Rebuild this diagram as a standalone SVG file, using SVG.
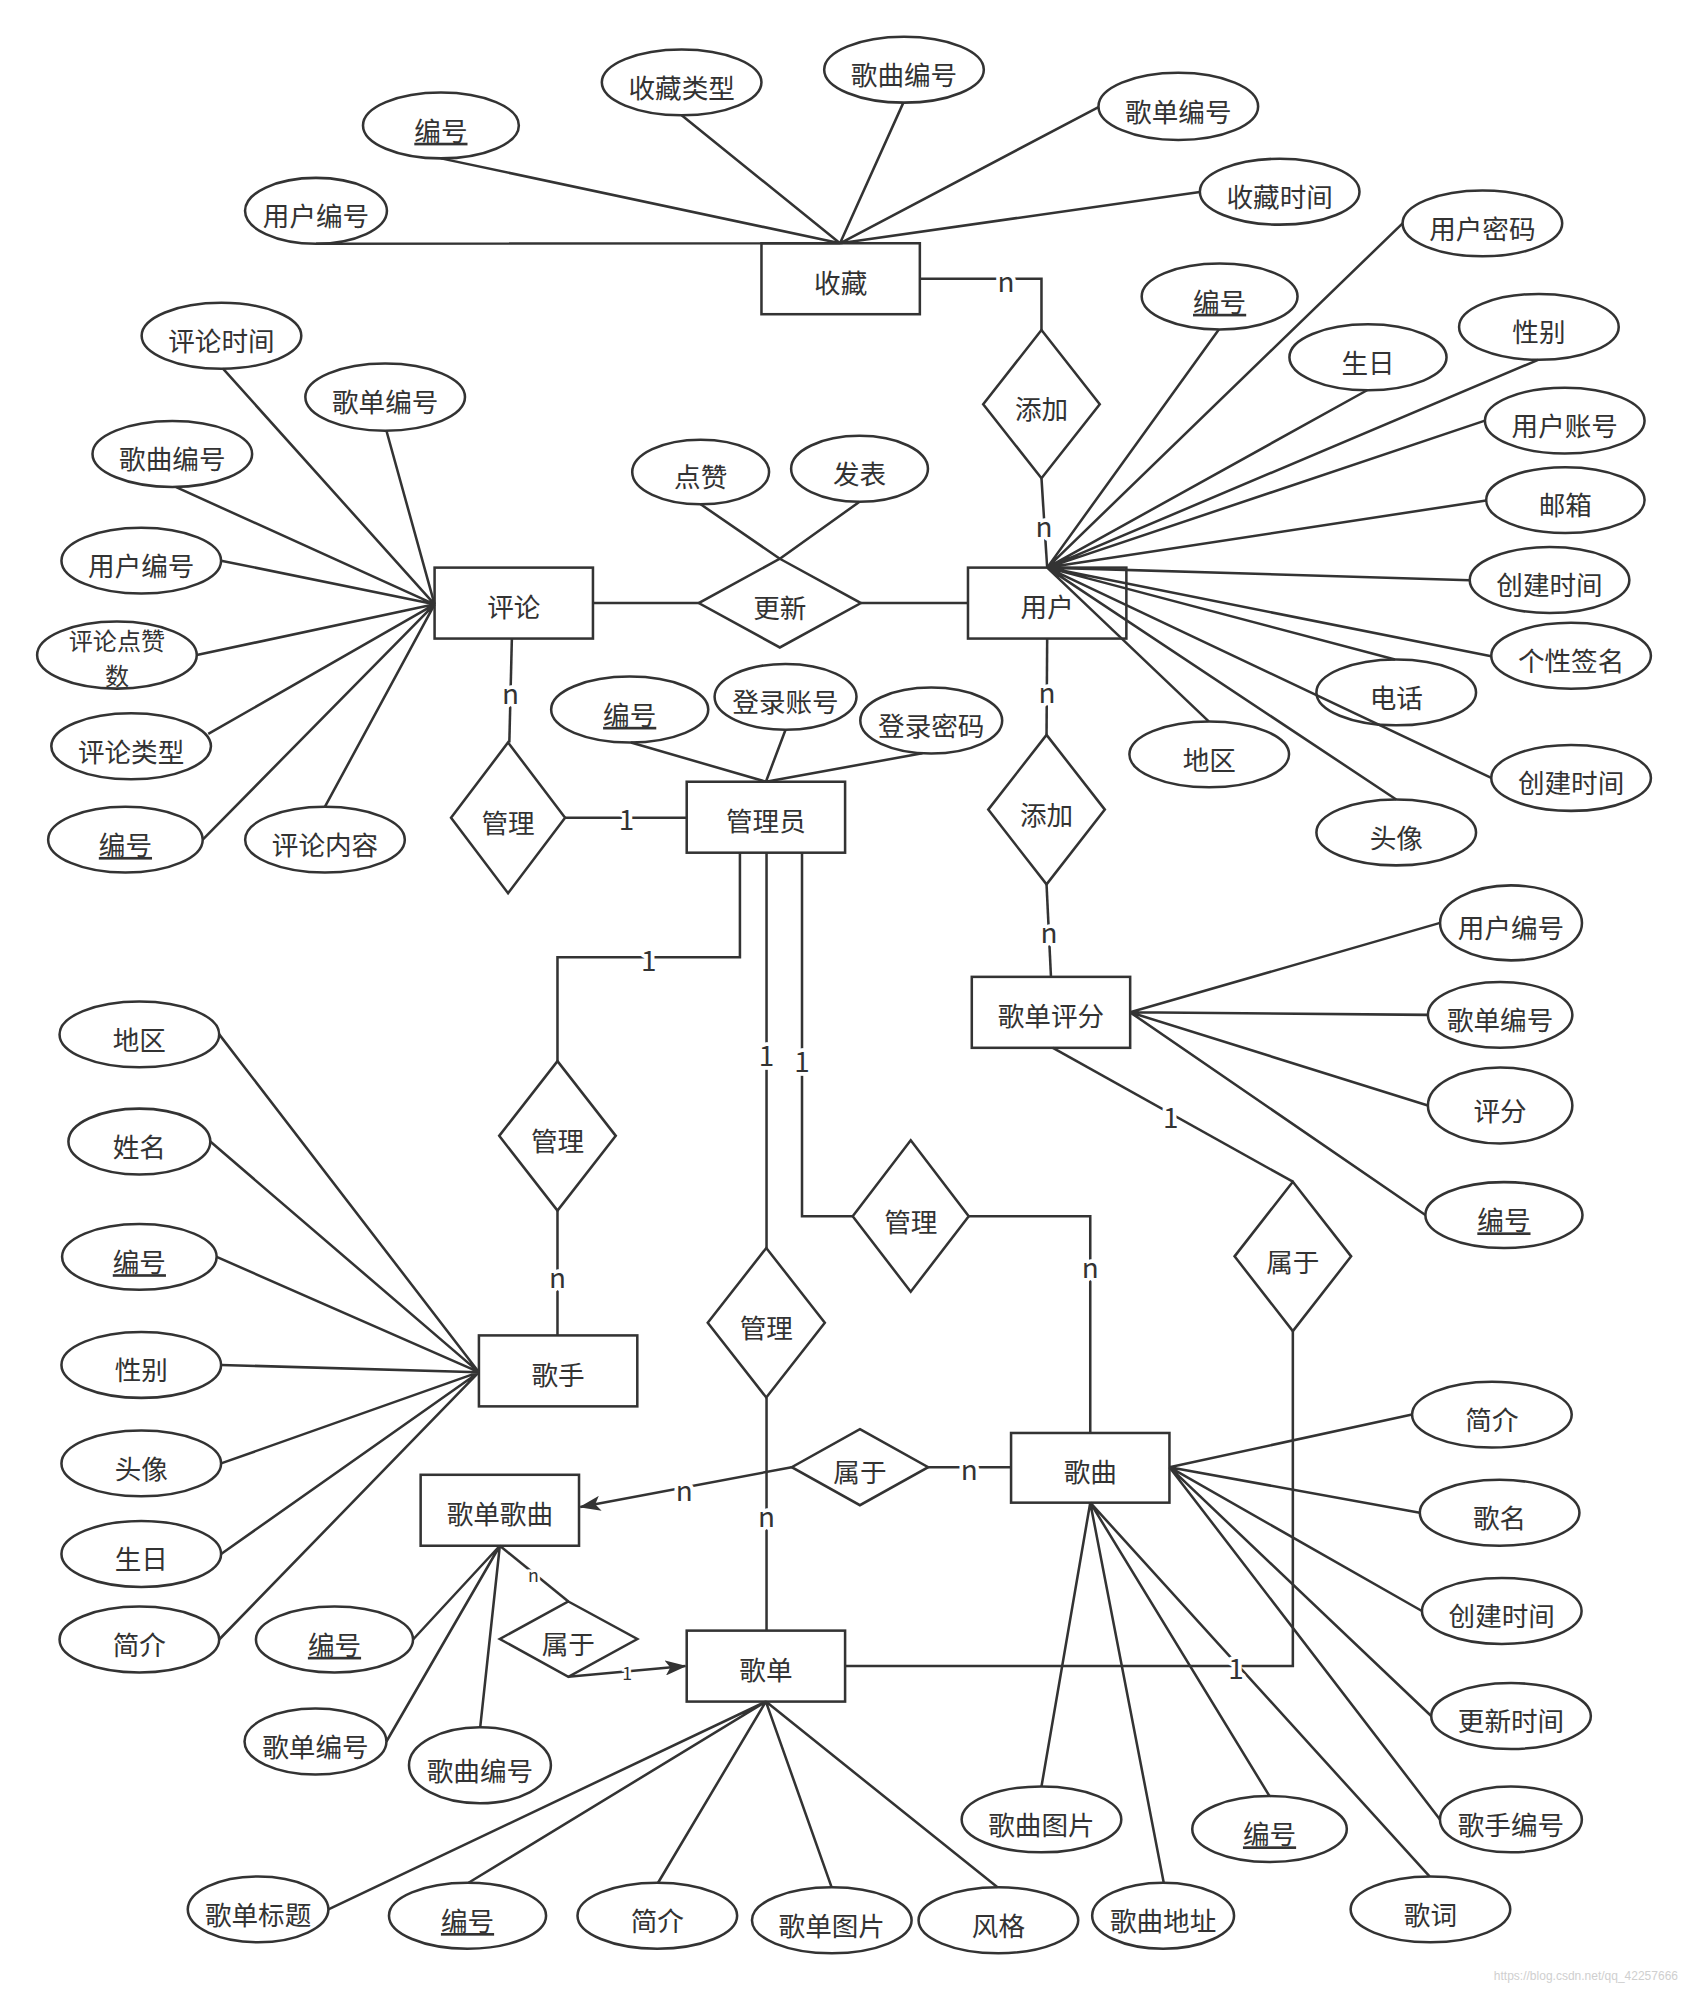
<svg xmlns="http://www.w3.org/2000/svg" width="1688" height="1990" viewBox="0 0 1688 1990">
<style>
.bg{fill:#fff}
.e,.r,.d{fill:#fff;stroke:#333;stroke-width:2}
.c{fill:none;stroke:#333;stroke-width:2}
text{font-family:"Noto Sans CJK SC","Noto Sans",sans-serif;font-size:21px;fill:#333;text-anchor:middle;dominant-baseline:central}
.k{text-decoration:underline}
.two{font-size:19px}
.lab{font-size:22px;stroke:#fff;stroke-width:6;paint-order:stroke;stroke-linejoin:round}
.sm{font-size:14px;stroke:#fff;stroke-width:4;paint-order:stroke}
.wm{font-family:"Liberation Sans",Arial,sans-serif;font-size:12px;fill:#cfcfcf;text-anchor:end}
</style>
<defs>
<marker id="arr" markerWidth="18" markerHeight="12" refX="16" refY="6" orient="auto" markerUnits="userSpaceOnUse">
<path d="M0,0 L17,6 L0,12 L4,6 Z" fill="#333"/>
</marker>
</defs>
<rect class="bg" x="0" y="0" width="1688" height="1990"/>
<g transform="scale(1.267)">
<g id="nodes">
<!-- entities -->
<g id="e-shoucang"><rect class="r" x="601" y="192" width="125" height="56"/><text x="663.5" y="222">收藏</text></g>
<g id="e-yonghu"><rect class="r" x="764" y="448" width="125" height="56"/><text x="826.5" y="478">用户</text></g>
<g id="e-pinglun"><rect class="r" x="343" y="448" width="125" height="56"/><text x="405.5" y="478">评论</text></g>
<g id="e-guanliyuan"><rect class="r" x="542" y="617" width="125" height="56"/><text x="604.5" y="647">管理员</text></g>
<g id="e-gedanpingfen"><rect class="r" x="767" y="771" width="125" height="56"/><text x="829.5" y="801">歌单评分</text></g>
<g id="e-geshou"><rect class="r" x="378" y="1054" width="125" height="56"/><text x="440.5" y="1084">歌手</text></g>
<g id="e-gedangequ"><rect class="r" x="332" y="1164" width="125" height="56"/><text x="394.5" y="1194">歌单歌曲</text></g>
<g id="e-gequ"><rect class="r" x="798" y="1131" width="125" height="55"/><text x="860.5" y="1161">歌曲</text></g>
<g id="e-gedan"><rect class="r" x="542" y="1287" width="125" height="56"/><text x="604.5" y="1317">歌单</text></g>
<!-- relationships -->
<g id="r-tianjia1"><polygon class="d" points="822,260.5 868,319 822,377.5 776,319"/><text x="822" y="322">添加</text></g>
<g id="r-gengxin"><polygon class="d" points="615.5,441 679.5,476 615.5,511 551.5,476"/><text x="615.5" y="479">更新</text></g>
<g id="r-guanli-pl"><polygon class="d" points="401,586 446,645.5 401,705 356,645.5"/><text x="401" y="648">管理</text></g>
<g id="r-tianjia2"><polygon class="d" points="826,580 872,639 826,698 780,639"/><text x="826" y="642">添加</text></g>
<g id="r-guanli-gs"><polygon class="d" points="440,837.5 486,896.5 440,955.5 394,896.5"/><text x="440" y="899">管理</text></g>
<g id="r-guanli-gq"><polygon class="d" points="718.8,900 764.6,960 718.8,1019.5 673,960"/><text x="718.8" y="963">管理</text></g>
<g id="r-guanli-gd"><polygon class="d" points="604.8,985 651,1044 604.8,1103 558.6,1044"/><text x="604.8" y="1047">管理</text></g>
<g id="r-shuyu-pf"><polygon class="d" points="1020.4,932.7 1066.4,991.6 1020.4,1050.6 974.4,991.6"/><text x="1020.4" y="994.6">属于</text></g>
<g id="r-shuyu-gq"><polygon class="d" points="678.7,1128 732.6,1158 678.7,1188 624.9,1158"/><text x="678.7" y="1161">属于</text></g>
<g id="r-shuyu-gd"><polygon class="d" points="448.6,1264 503,1293.6 448.6,1323.4 394.5,1293.6"/><text x="448.6" y="1296.6">属于</text></g>
<!-- attributes: 收藏 -->
<g id="a-sc-bh"><ellipse class="e" cx="348" cy="99" rx="61.5" ry="26"/><text class="k" x="348" y="102">编号</text></g>
<g id="a-sc-yhbh"><ellipse class="e" cx="249.4" cy="166.4" rx="56" ry="26"/><text x="249.4" y="169.4">用户编号</text></g>
<g id="a-sc-sclx"><ellipse class="e" cx="538" cy="65" rx="63" ry="26"/><text x="538" y="68">收藏类型</text></g>
<g id="a-sc-gqbh"><ellipse class="e" cx="713.5" cy="55" rx="63" ry="26"/><text x="713.5" y="58">歌曲编号</text></g>
<g id="a-sc-gdbh"><ellipse class="e" cx="930" cy="84" rx="63" ry="26.5"/><text x="930" y="87">歌单编号</text></g>
<g id="a-sc-scsj"><ellipse class="e" cx="1010" cy="151.3" rx="63" ry="26"/><text x="1010" y="154.3">收藏时间</text></g>
<!-- attributes: 用户 -->
<g id="a-yh-mm"><ellipse class="e" cx="1170" cy="176.3" rx="63" ry="26"/><text x="1170" y="179.3">用户密码</text></g>
<g id="a-yh-bh"><ellipse class="e" cx="962.6" cy="234" rx="61.5" ry="26"/><text class="k" x="962.6" y="237">编号</text></g>
<g id="a-yh-sr"><ellipse class="e" cx="1079.7" cy="282" rx="62" ry="26"/><text x="1079.7" y="285">生日</text></g>
<g id="a-yh-xb"><ellipse class="e" cx="1214.6" cy="258" rx="63" ry="26"/><text x="1214.6" y="261">性别</text></g>
<g id="a-yh-zh"><ellipse class="e" cx="1235" cy="332" rx="63" ry="26"/><text x="1235" y="335">用户账号</text></g>
<g id="a-yh-yx"><ellipse class="e" cx="1235.5" cy="394.7" rx="62.5" ry="26"/><text x="1235.5" y="397.7">邮箱</text></g>
<g id="a-yh-cj1"><ellipse class="e" cx="1223" cy="457.8" rx="63" ry="26"/><text x="1223" y="460.8">创建时间</text></g>
<g id="a-yh-qm"><ellipse class="e" cx="1240" cy="517.6" rx="63" ry="26"/><text x="1240" y="520.6">个性签名</text></g>
<g id="a-yh-dh"><ellipse class="e" cx="1102" cy="546.5" rx="63" ry="26"/><text x="1102" y="549.5">电话</text></g>
<g id="a-yh-cj2"><ellipse class="e" cx="1240" cy="614" rx="63" ry="26"/><text x="1240" y="617">创建时间</text></g>
<g id="a-yh-dq"><ellipse class="e" cx="954.4" cy="595.4" rx="63" ry="26"/><text x="954.4" y="598.4">地区</text></g>
<g id="a-yh-tx"><ellipse class="e" cx="1102" cy="657" rx="63" ry="26"/><text x="1102" y="660">头像</text></g>
<!-- attributes: 评论 -->
<g id="a-pl-sj"><ellipse class="e" cx="174.8" cy="265" rx="63" ry="26"/><text x="174.8" y="268">评论时间</text></g>
<g id="a-pl-gdbh"><ellipse class="e" cx="304" cy="313.4" rx="63" ry="26.5"/><text x="304" y="316.4">歌单编号</text></g>
<g id="a-pl-gqbh"><ellipse class="e" cx="136" cy="358.3" rx="63" ry="26"/><text x="136" y="361.3">歌曲编号</text></g>
<g id="a-pl-yhbh"><ellipse class="e" cx="111.5" cy="442.5" rx="63" ry="26"/><text x="111.5" y="445.5">用户编号</text></g>
<g id="a-pl-dzs"><ellipse class="e" cx="92.3" cy="517" rx="63" ry="26.5"/><text class="two" x="92.3" y="504"><tspan x="92.3" y="504">评论点赞</tspan><tspan x="92.3" y="532">数</tspan></text></g>
<g id="a-pl-lx"><ellipse class="e" cx="103.5" cy="589" rx="63" ry="26"/><text x="103.5" y="592">评论类型</text></g>
<g id="a-pl-bh"><ellipse class="e" cx="99" cy="662.7" rx="61" ry="26"/><text class="k" x="99" y="665.7">编号</text></g>
<g id="a-pl-nr"><ellipse class="e" cx="256.5" cy="662.7" rx="63" ry="26"/><text x="256.5" y="665.7">评论内容</text></g>
<!-- attributes: 更新 -->
<g id="a-gx-dz"><ellipse class="e" cx="553" cy="372.5" rx="54" ry="25.5"/><text x="553" y="375.5">点赞</text></g>
<g id="a-gx-fb"><ellipse class="e" cx="678.4" cy="370" rx="54" ry="26"/><text x="678.4" y="373">发表</text></g>
<!-- attributes: 管理员 -->
<g id="a-gly-bh"><ellipse class="e" cx="497" cy="560" rx="62" ry="26"/><text class="k" x="497" y="563">编号</text></g>
<g id="a-gly-zh"><ellipse class="e" cx="620" cy="550" rx="56" ry="26"/><text x="620" y="553">登录账号</text></g>
<g id="a-gly-mm"><ellipse class="e" cx="735" cy="568.7" rx="56" ry="26"/><text x="735" y="571.7">登录密码</text></g>
<!-- attributes: 歌单评分 -->
<g id="a-pf-yhbh"><ellipse class="e" cx="1192.6" cy="728.4" rx="56" ry="29.6"/><text x="1192.6" y="731.4">用户编号</text></g>
<g id="a-pf-gdbh"><ellipse class="e" cx="1184" cy="801" rx="57" ry="26"/><text x="1184" y="804">歌单编号</text></g>
<g id="a-pf-pf"><ellipse class="e" cx="1184" cy="872.5" rx="57" ry="30"/><text x="1184" y="875.5">评分</text></g>
<g id="a-pf-bh"><ellipse class="e" cx="1187" cy="959" rx="62" ry="26"/><text class="k" x="1187" y="962">编号</text></g>
<!-- attributes: 歌手 -->
<g id="a-gs-dq"><ellipse class="e" cx="110" cy="816.4" rx="63" ry="26"/><text x="110" y="819.4">地区</text></g>
<g id="a-gs-xm"><ellipse class="e" cx="110" cy="901" rx="56" ry="26"/><text x="110" y="904">姓名</text></g>
<g id="a-gs-bh"><ellipse class="e" cx="110" cy="992" rx="61" ry="26"/><text class="k" x="110" y="995">编号</text></g>
<g id="a-gs-xb"><ellipse class="e" cx="111.5" cy="1077.3" rx="63" ry="26"/><text x="111.5" y="1080.3">性别</text></g>
<g id="a-gs-tx"><ellipse class="e" cx="111.5" cy="1155" rx="63" ry="26"/><text x="111.5" y="1158">头像</text></g>
<g id="a-gs-sr"><ellipse class="e" cx="111.5" cy="1226.5" rx="63" ry="26"/><text x="111.5" y="1229.5">生日</text></g>
<g id="a-gs-jj"><ellipse class="e" cx="110" cy="1294" rx="63" ry="26"/><text x="110" y="1297">简介</text></g>
<!-- attributes: 歌单歌曲 -->
<g id="a-gdgq-bh"><ellipse class="e" cx="264" cy="1294" rx="62" ry="26"/><text class="k" x="264" y="1297">编号</text></g>
<g id="a-gdgq-gdbh"><ellipse class="e" cx="249" cy="1374.5" rx="56" ry="26"/><text x="249" y="1377.5">歌单编号</text></g>
<g id="a-gdgq-gqbh"><ellipse class="e" cx="378.8" cy="1393.3" rx="56" ry="30"/><text x="378.8" y="1396.3">歌曲编号</text></g>
<!-- attributes: 歌单 -->
<g id="a-gd-bt"><ellipse class="e" cx="203.7" cy="1507" rx="55.5" ry="26"/><text x="203.7" y="1510">歌单标题</text></g>
<g id="a-gd-bh"><ellipse class="e" cx="369" cy="1512" rx="62" ry="26"/><text class="k" x="369" y="1515">编号</text></g>
<g id="a-gd-jj"><ellipse class="e" cx="518.8" cy="1512" rx="63" ry="26"/><text x="518.8" y="1515">简介</text></g>
<g id="a-gd-tp"><ellipse class="e" cx="656.5" cy="1515.6" rx="63" ry="26"/><text x="656.5" y="1518.6">歌单图片</text></g>
<g id="a-gd-fg"><ellipse class="e" cx="788" cy="1515.6" rx="63" ry="26"/><text x="788" y="1518.6">风格</text></g>
<!-- attributes: 歌曲 -->
<g id="a-gq-jj"><ellipse class="e" cx="1177.5" cy="1116.5" rx="63" ry="26"/><text x="1177.5" y="1119.5">简介</text></g>
<g id="a-gq-gm"><ellipse class="e" cx="1183.6" cy="1194" rx="63" ry="26"/><text x="1183.6" y="1197">歌名</text></g>
<g id="a-gq-cj"><ellipse class="e" cx="1185.3" cy="1271.5" rx="63" ry="26"/><text x="1185.3" y="1274.5">创建时间</text></g>
<g id="a-gq-gx"><ellipse class="e" cx="1192.6" cy="1354.4" rx="63" ry="26"/><text x="1192.6" y="1357.4">更新时间</text></g>
<g id="a-gq-gsbh"><ellipse class="e" cx="1192.5" cy="1436" rx="56" ry="26"/><text x="1192.5" y="1439">歌手编号</text></g>
<g id="a-gq-tp"><ellipse class="e" cx="822" cy="1436" rx="63" ry="26"/><text x="822" y="1439">歌曲图片</text></g>
<g id="a-gq-dz"><ellipse class="e" cx="918" cy="1512" rx="56" ry="26"/><text x="918" y="1515">歌曲地址</text></g>
<g id="a-gq-bh"><ellipse class="e" cx="1002" cy="1443.6" rx="61" ry="26"/><text class="k" x="1002" y="1446.6">编号</text></g>
<g id="a-gq-gc"><ellipse class="e" cx="1129" cy="1507" rx="63" ry="26"/><text x="1129" y="1510">歌词</text></g>
</g>
<g id="connectors">
<!-- 收藏 attributes -->
<path class="c" d="M663,192 L348,125 M663,192 L249.4,192.4 M663,192 L538,91 M663,192 L713,81 M663,192 L867,84.5 M663,192 L947,151.5"/>
<!-- 用户 attributes -->
<path class="c" d="M826.5,448 L1107,176.3 M826.5,448 L962,260 M826.5,448 L1079,308 M826.5,448 L1214,284 M826.5,448 L1172,332 M826.5,448 L1173,395 M826.5,448 L1160,458 M826.5,448 L1177,518 M826.5,448 L1101,520.5 M826.5,448 L1177,614 M826.5,448 L954,569.4 M826.5,448 L1102,631"/>
<!-- 评论 attributes -->
<path class="c" d="M343,477 L176,291 M343,477 L305,340 M343,477 L139,384.5 M343,477 L174.5,442.5 M343,477 L155.3,517 M343,477 L164.4,579.3 M343,477 L160,662.7 M343,477 L256.5,636.7"/>
<!-- 更新 attributes -->
<path class="c" d="M553,398 L615.5,441 M678.4,396 L615.5,441"/>
<!-- 管理员 attributes -->
<path class="c" d="M604.5,617 L498,586 M604.5,617 L620,576 M604.5,617 L728,594.5"/>
<!-- 歌单评分 attributes -->
<path class="c" d="M892,799 L1136.6,728.4 M892,799 L1127,801 M892,799 L1127,872.5 M892,799 L1125,959"/>
<!-- 歌手 attributes -->
<path class="c" d="M378,1083 L173,816.4 M378,1083 L166,901 M378,1083 L171,992 M378,1083 L174.5,1077.3 M378,1083 L174.5,1155 M378,1083 L174.5,1226.5 M378,1083 L173,1294"/>
<!-- 歌单歌曲 attributes -->
<path class="c" d="M394.5,1220 L326,1294 M394.5,1220 L305,1374.5 M394.5,1220 L379,1363.3"/>
<!-- 歌单 attributes -->
<path class="c" d="M604.5,1343 L259.2,1507 M604.5,1343 L369.8,1486 M604.5,1343 L519.4,1486 M604.5,1343 L656.4,1489.6 M604.5,1343 L787.3,1489.6"/>
<!-- 歌曲 attributes -->
<path class="c" d="M923,1158 L1114.5,1116.5 M923,1158 L1120.6,1194 M923,1158 L1122.3,1271.5 M923,1158 L1129.6,1354.4 M923,1158 L1136.5,1436 M860.5,1186 L822,1410 M860.5,1186 L918.5,1486 M860.5,1186 L1002,1417.6 M860.5,1186 L1128.3,1481"/>
<!-- relationships -->
<polyline class="c" points="726,220 822,220 822,260.5"/>
<line class="c" x1="822" y1="377.5" x2="826.5" y2="448"/>
<line class="c" x1="468" y1="476" x2="551.5" y2="476"/>
<line class="c" x1="679.5" y1="476" x2="764" y2="476"/>
<line class="c" x1="404" y1="504" x2="402" y2="586"/>
<line class="c" x1="446" y1="645.5" x2="542" y2="645.5"/>
<polyline class="c" points="584,673 584,755.5 440,755.5 440,837.5"/>
<line class="c" x1="440" y1="955.5" x2="440" y2="1054"/>
<line class="c" x1="605" y1="673" x2="605" y2="985"/>
<line class="c" x1="605" y1="1103" x2="605" y2="1287"/>
<polyline class="c" points="633,673 633,960 673,960"/>
<polyline class="c" points="764.6,960 860.5,960 860.5,1131"/>
<line class="c" x1="826.5" y1="504" x2="826" y2="580"/>
<line class="c" x1="826" y1="698" x2="829.5" y2="771"/>
<line class="c" x1="831" y1="827" x2="1020.4" y2="932.7"/>
<polyline class="c" points="1020.4,1050.6 1020.4,1315 667,1315"/>
<line class="c" x1="798" y1="1158" x2="732.6" y2="1158"/>
<line class="c" x1="624.9" y1="1158" x2="458" y2="1189.5" marker-end="url(#arr)"/>
<line class="c" x1="394.5" y1="1220" x2="448.6" y2="1264"/>
<line class="c" x1="448.6" y1="1323.4" x2="541" y2="1315" marker-end="url(#arr)"/>
</g>
<g id="labels">
<text class="lab" x="794" y="221">n</text>
<text class="lab" x="824" y="414">n</text>
<text class="lab" x="403" y="546">n</text>
<text class="lab" x="494.5" y="646">1</text>
<text class="lab" x="512" y="757">1</text>
<text class="lab" x="440" y="1007">n</text>
<text class="lab" x="605" y="832">1</text>
<text class="lab" x="605" y="1196">n</text>
<text class="lab" x="633" y="837">1</text>
<text class="lab" x="860.5" y="999">n</text>
<text class="lab" x="826.3" y="545">n</text>
<text class="lab" x="828" y="735">n</text>
<text class="lab" x="924" y="881">1</text>
<text class="lab" x="975.5" y="1316">1</text>
<text class="lab" x="765" y="1159">n</text>
<text class="lab" x="540" y="1175">n</text>
<text class="sm" x="421" y="1242">n</text>
<text class="sm" x="495" y="1320">1</text>
</g>
</g>
<text class="wm" x="1678" y="1976">https://blog.csdn.net/qq_42257666</text>
</svg>
